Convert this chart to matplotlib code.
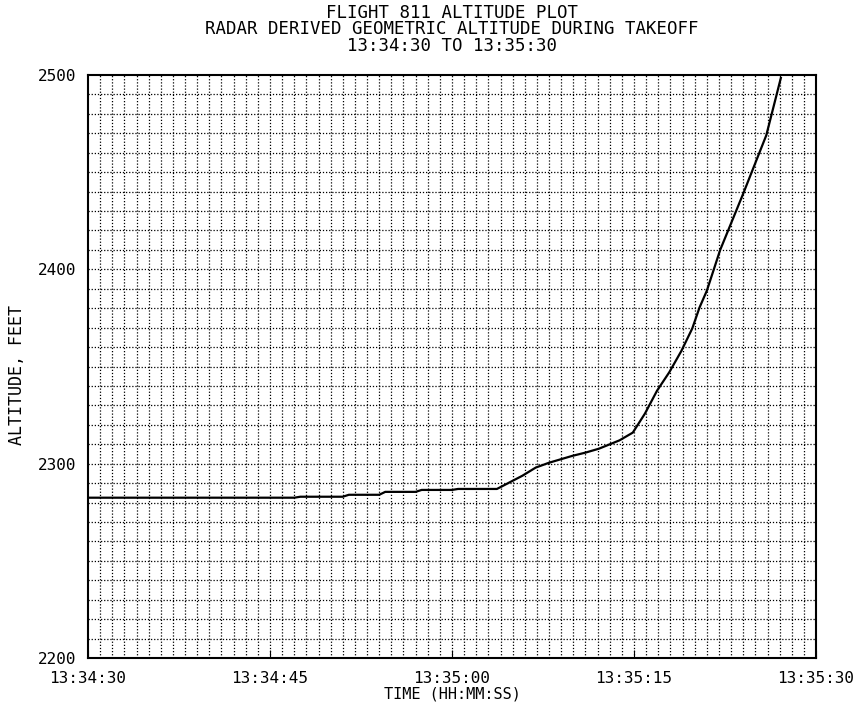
import matplotlib
matplotlib.use("Agg")
import matplotlib.pyplot as plt
import numpy as np

# seconds after 13:34:30
seconds = [0, 17, 17.5, 21, 21.5, 24, 24.5, 27, 27.5, 30, 30.5, 33.7,
           35.8, 36.9, 38.0, 39.9, 41.0, 42.1, 43.8, 44.9, 45.9, 46.9,
           47.9, 48.9, 49.8, 50.4, 51.0, 52.1, 54.0, 55.9, 57.1]
altitude = [2282.5, 2282.5, 2283, 2283, 2284, 2284, 2285.5, 2285.5, 2286.5, 2286.5, 2287, 2287,
            2293.8, 2298, 2300.5, 2304, 2305.7, 2307.7, 2312, 2316, 2325.8, 2337.6,
            2347, 2358, 2369.6, 2380.4, 2389, 2410, 2439, 2469, 2498.5]

tick_seconds = [0, 15, 30, 45, 60]
tick_labels = ["13:34:30", "13:34:45", "13:35:00", "13:35:15", "13:35:30"]
alt_ticks = [2200, 2300, 2400, 2500]
title_lines = ["FLIGHT 811 ALTITUDE PLOT",
               "RADAR DERIVED GEOMETRIC ALTITUDE DURING TAKEOFF",
               "13:34:30 TO 13:35:30"]

plt.rcParams['font.family'] = ['DejaVu Sans Mono']

fig = plt.figure(figsize=(8.59, 7.11), dpi=100)
ax = fig.add_axes([0.1024, 0.0745, 0.8476, 0.82])

# plotter grid: 1 s by 10 ft, dotted
for s in range(1, 60):
    ax.axvline(s, color='black', lw=0.9, ls=(0, (1, 1.5)), zorder=1)
for a in range(2210, 2500, 10):
    ax.axhline(a, color='black', lw=0.9, ls=(0, (1, 1.5)), zorder=1)

ax.plot(seconds, altitude, color='black', lw=1.6, zorder=3)

ax.set_xlim(0, 60)
ax.set_ylim(2200, 2500)
ax.set_xticks(tick_seconds)
ax.set_xticklabels(tick_labels)
ax.set_yticks(alt_ticks)
ax.tick_params(axis='x', direction='in', length=6, labelsize=11.5, pad=9)
ax.tick_params(axis='y', length=0, labelsize=11.5, pad=8)
for spine in ax.spines.values():
    spine.set_linewidth(1.5)

ax.set_xlabel("TIME (HH:MM:SS)", fontsize=11, labelpad=1)
fig.text(17 / 859, 1 - 375 / 711, "ALTITUDE, FEET", rotation=90, fontsize=12,
         ha='center', va='center')

# title lines, centred over the plot box
for i, line in enumerate(title_lines):
    fig.text(0.5262, 1 - (13 + 16.5 * i) / 711, line, fontsize=12.5,
             ha='center', va='center')

fig.savefig("out.png", dpi=100)
